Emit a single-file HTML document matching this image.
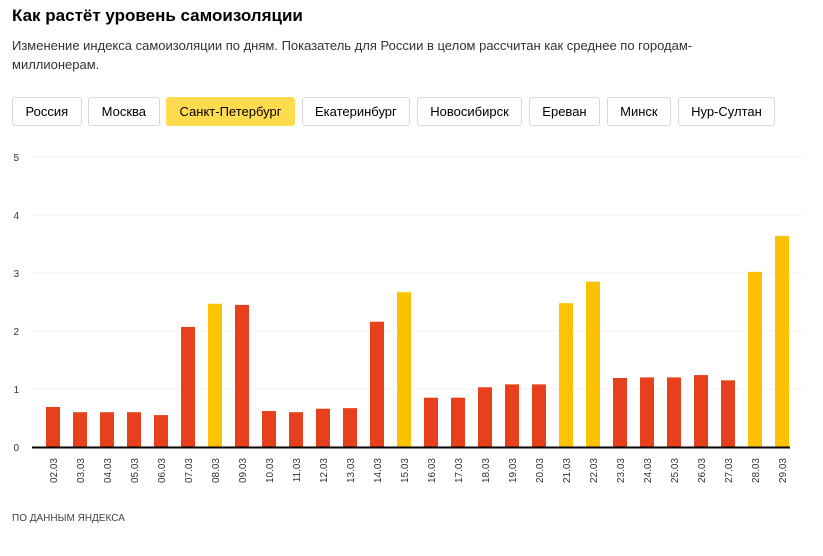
<!DOCTYPE html>
<html><head><meta charset="utf-8"><style>
body{margin:0;width:823px;height:556px;background:#fff;font-family:"Liberation Sans",sans-serif;position:relative;overflow:hidden}
h1{position:absolute;left:12px;top:6px;margin:0;font-size:17px;font-weight:bold;color:#000}
.sub{position:absolute;left:12px;top:36px;width:720px;font-size:13px;line-height:19px;color:#333}
.btns{position:absolute;left:12px;top:97px;display:flex}
.b{height:29px;box-sizing:border-box;border:1px solid #d9d9d9;border-radius:3px;padding:0 12.5px;font-size:13px;line-height:27px;margin-right:6.5px;color:#000;background:#fff}
.b.on{background:#ffdb4d;border-color:#ffdb4d}
.src{position:absolute;left:12px;top:513px;font-size:10px;color:#444}
svg{position:absolute;left:0;top:0}
</style></head><body>
<h1>Как растёт уровень самоизоляции</h1>
<div class="sub">Изменение индекса самоизоляции по дням. Показатель для России в целом рассчитан как среднее по городам-миллионерам.</div>
<div class="btns">
<div class="b">Россия</div>
<div class="b">Москва</div>
<div class="b on">Санкт-Петербург</div>
<div class="b">Екатеринбург</div>
<div class="b">Новосибирск</div>
<div class="b">Ереван</div>
<div class="b">Минск</div>
<div class="b">Нур-Султан</div>
</div>
<svg id="c" width="823" height="556"></svg>
<div class="src">ПО ДАННЫМ ЯНДЕКСА</div>
<script>
const categories=["02.03","03.03","04.03","05.03","06.03","07.03","08.03","09.03","10.03","11.03","12.03","13.03","14.03","15.03","16.03","17.03","18.03","19.03","20.03","21.03","22.03","23.03","24.03","25.03","26.03","27.03","28.03","29.03"];
const values=[0.69,0.6,0.6,0.6,0.55,2.07,2.47,2.45,0.62,0.6,0.66,0.67,2.16,2.67,0.85,0.85,1.03,1.08,1.08,2.48,2.85,1.19,1.2,1.2,1.24,1.15,3.02,3.64];
const weekend=[0,0,0,0,0,0,1,0,0,0,0,0,0,1,0,0,0,0,0,1,1,0,0,0,0,0,1,1];
const yTicks=[0,1,2,3,4,5];
const NS="http://www.w3.org/2000/svg",svg=document.getElementById('c');
const y=v=>447-v*58, x=i=>53+i*27;
function mk(t,a){const e=document.createElementNS(NS,t);for(const k in a)e.setAttribute(k,a[k]);svg.appendChild(e);return e;}
yTicks.forEach(t=>{
 if(t>0){const g=mk('line',{x1:32,x2:803,y1:y(t),y2:y(t),stroke:'#f3f3f3','stroke-width':1});
 
 }
 const l=mk('text',{x:19,y:y(t)+4,'font-size':10,fill:'#333','text-anchor':'end'});l.textContent=t;
 
 
});
values.forEach((v,i)=>{
 const r=mk('rect',{x:x(i)-7,y:y(v),width:14,height:v*58,fill:weekend[i]?'#fcc200':'#e8401c'});
 
 
 const t=mk('text',{transform:`translate(${x(i)+4},${458}) rotate(-90)`,'font-size':10,fill:'#333','text-anchor':'end'});
 t.textContent=categories[i];
 
 
});
const ax=mk('line',{x1:32,x2:790,y1:447.5,y2:447.5,stroke:'#000','stroke-width':2});


</script>
</body></html>
